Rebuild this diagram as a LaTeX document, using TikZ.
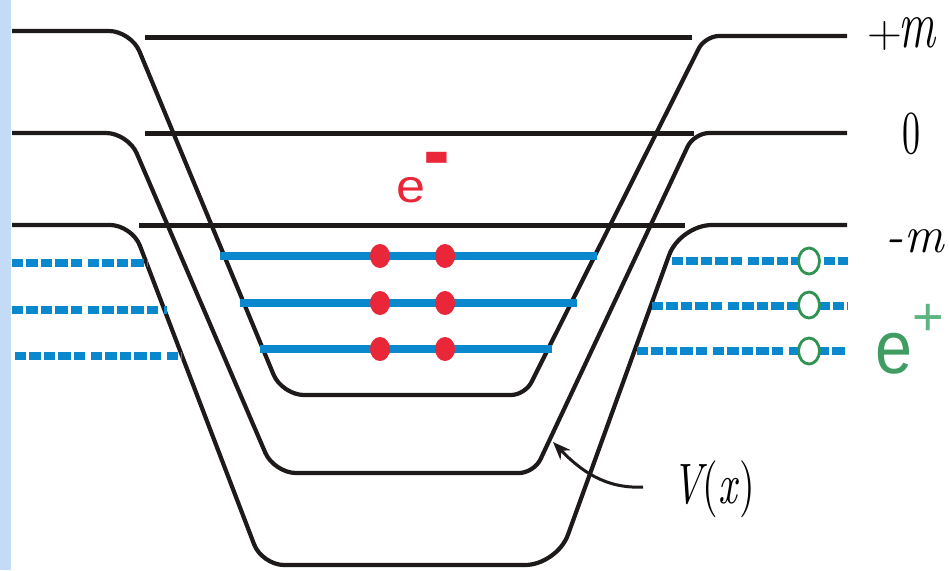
\documentclass[tikz,border=0pt]{standalone}
\usepackage{fontspec}
\usepackage{graphicx}
\newfontfamily\sansE{Liberation Sans}
\usetikzlibrary{arrows.meta}
\definecolor{bgstrip}{HTML}{C3DBF6}
\definecolor{wellblue}{HTML}{0A88CE}
\definecolor{elred}{HTML}{EA2639}
\definecolor{posgreen}{HTML}{2F9452}
\definecolor{eplusgreen}{HTML}{3F9C62}
\definecolor{plusgreen}{HTML}{5DB483}
\definecolor{inkblack}{HTML}{1E1A1A}
\begin{document}
\begin{tikzpicture}[x=1pt,y=-1pt,
  well/.style={line width=4.2pt, draw=inkblack},
  levelline/.style={line width=5pt, draw=inkblack},
  band/.style={line width=8pt, draw=wellblue},
  sea/.style={line width=8pt, draw=wellblue, dash pattern=on 11pt off 3pt on 12pt off 3pt on 11pt off 3pt on 13pt off 3pt on 11pt off 6pt},
  electron/.style={fill=elred},
  hole/.style={draw=posgreen, line width=2.8pt, fill=white},
  pointer/.style={line width=3pt, draw=inkblack, -{Stealth[length=18pt,width=14pt]}},
  lbl/.style={inner sep=0pt, outer sep=0pt}]
\useasboundingbox (0,0) rectangle (949,570);
\fill[white] (0,0) rectangle (949,570);
\fill[bgstrip] (0,0) rectangle (11,570);

% potential wells
\draw[well] (12,31) [rounded corners=22pt] -- (131,31) -- (282,395) [rounded corners=14pt] -- (525,395) -- (705,36) [rounded corners=22pt] -- (847,36);
\draw[well] (12,133) [rounded corners=22pt] -- (128,133) -- (274,473) [rounded corners=15pt] -- (534,473) -- (694,133) [rounded corners=20pt] -- (847,133);
\draw[well] (12,225) [rounded corners=22pt] -- (132,225) -- (262,565) [rounded corners=32pt] -- (557,565) -- (680,225) [rounded corners=20pt] -- (847,225);

% energy levels
\draw[levelline] (145,37) -- (692,37);
\draw[levelline] (145,133) -- (694,133);
\draw[levelline] (139,225) -- (685,225);

% bound states
\draw[band] (220,256) -- (597,256);
\draw[band] (240,303) -- (577,303);
\draw[band] (260,349) -- (552,349);

% continuum (dashed)
\draw[sea] (12,263) -- (148,263);
\draw[sea] (12,310) -- (167,310);
\draw[sea] (15,356) -- (182,356);
\draw[sea] (672,261) -- (848,261);
\draw[sea] (652,306) -- (848,306);
\draw[sea] (637,351) -- (848,351);

% electrons
\foreach \yy in {256,303,349}{
  \fill[electron] (380,\yy) ellipse [x radius=10pt, y radius=12pt];
  \fill[electron] (445,\yy) ellipse [x radius=10pt, y radius=12pt];
}
% holes
\foreach \yy in {261,305,351}{
  \filldraw[hole] (809,\yy) ellipse [x radius=10.5pt, y radius=13pt];
}

% labels
\node[lbl, anchor=base west, text=elred] (eminus) at (396,202)
  {\sansE\resizebox*{29pt}{25.5pt}{e}\raisebox{15pt}{\fontsize{41}{41}\selectfont\scalebox{1}[2.7]{\bfseries –}}};
\node[lbl, anchor=base west, text=eplusgreen] (eplus) at (875,373)
  {\sansE\resizebox*{37pt}{41pt}{e}\raisebox{38pt}{\fontsize{54}{54}\selectfont\color{plusgreen}+}};
\node[lbl, anchor=base west] (plusm) at (867,47)
  {\scalebox{1.1}[1.05]{\fontsize{44}{44}\selectfont +}\kern-3pt\scalebox{0.68}[1]{\fontsize{68}{68}\selectfont\itshape m}};
\node[lbl] (zero) at (911,134) {\resizebox*{18pt}{42pt}{0}};
\node[lbl, anchor=base west] (minusm) at (885,252)
  {\fontsize{52}{52}\selectfont\itshape -\kern1pt\scalebox{0.95}[1]{m}};
\node[lbl] (vlabel) at (714,489.5) {\resizebox*{82pt}{57pt}{{\itshape V}(\textit{x})}};

\coordinate (vstart) at (643,487);
\coordinate (vtip) at (553,442);
\draw[pointer] (vstart) .. controls (605,489) and (580,470) .. (vtip);
\end{tikzpicture}
\end{document}
